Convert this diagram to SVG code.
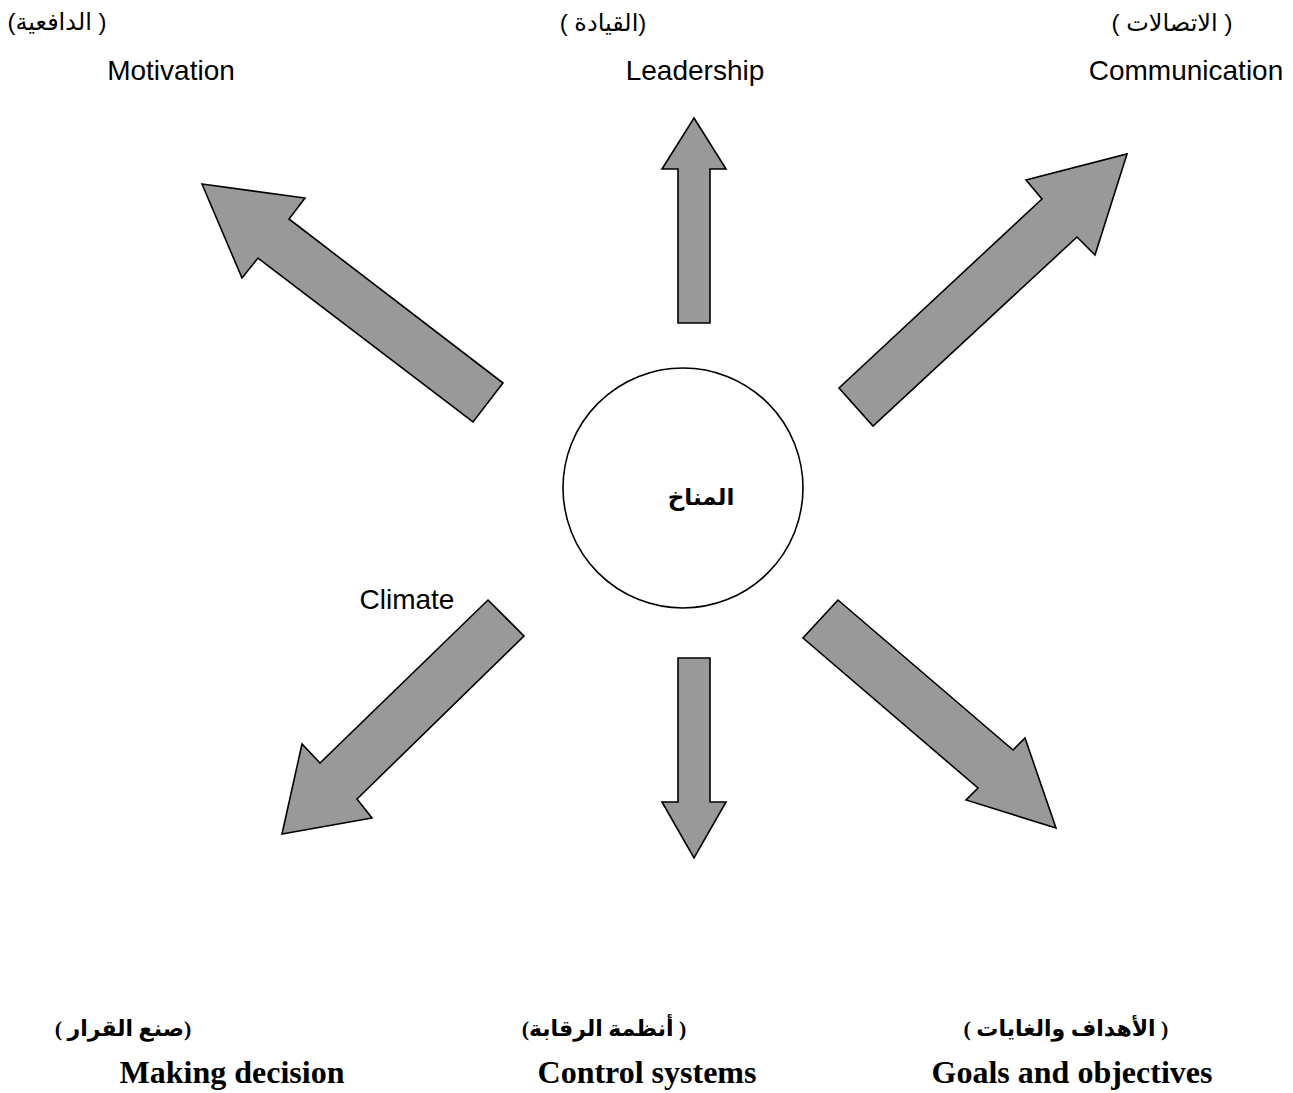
<svg xmlns="http://www.w3.org/2000/svg" width="1293" height="1093" viewBox="0 0 1293 1093">
<style>
.arrow{fill:#999999;stroke:#000;stroke-width:1.6;stroke-linejoin:miter}
.en{font-family:"Liberation Sans","DejaVu Sans",sans-serif;font-size:28px;fill:#000;text-anchor:middle}
.ar{font-family:"Liberation Sans","DejaVu Sans",sans-serif;font-size:24px;fill:#000;text-anchor:middle}
.enb{font-family:"Liberation Serif","DejaVu Serif",serif;font-size:32px;font-weight:bold;fill:#000;text-anchor:middle}
.arb{font-family:"Liberation Serif","DejaVu Sans",serif;font-size:22px;font-weight:bold;fill:#000;text-anchor:middle}
</style>
<rect width="1293" height="1093" fill="#fff"/>
<g id="connectors">
<polygon class="arrow" points="202,184 305,198 289,219 503,383 473,422 258,258 242,278"/>
<polygon class="arrow" points="694,118 726,169 710,169 710,323 678,323 678,169 662,169"/>
<polygon class="arrow" points="1127,154 1095,255 1077,237 873,426 839,388 1042,199 1026,180"/>
<polygon class="arrow" points="282,834 302,744 320,763 488,600 524,636 357,799 372,818"/>
<polygon class="arrow" points="678,658 710,658 710,802 726,802 694,858 662,802 678,802"/>
<polygon class="arrow" points="838,600 1013,750 1025,738 1056,828 966,800 978,788 803,638"/>
</g>
<g id="climate">
<circle cx="683" cy="488" r="120" fill="#fff" stroke="#000" stroke-width="1.6"/>
<text x="701" y="505" direction="rtl" style="font-family:'Liberation Sans','DejaVu Sans',sans-serif;font-size:23px;font-weight:bold;text-anchor:middle">المناخ</text>
<text class="en" x="407" y="609">Climate</text>
</g>
<g id="motivation">
<text class="ar" x="57" y="30" direction="rtl">( الدافعية)</text>
<text class="en" x="171" y="80">Motivation</text>
</g>
<g id="leadership">
<text class="ar" x="603" y="31" direction="rtl">(القيادة )</text>
<text class="en" x="695" y="80">Leadership</text>
</g>
<g id="communication">
<text class="ar" x="1172" y="31" direction="rtl">( الاتصالات )</text>
<text class="en" x="1186" y="80">Communication</text>
</g>
<g id="making-decision">
<text class="arb" x="123" y="1036" direction="rtl">(صنع القرار )</text>
<text class="enb" x="232" y="1083">Making decision</text>
</g>
<g id="control-systems">
<text class="arb" x="604" y="1036" direction="rtl">( أنظمة الرقابة)</text>
<text class="enb" x="647" y="1083">Control systems</text>
</g>
<g id="goals">
<text class="arb" x="1066" y="1036" direction="rtl">( الأهداف والغايات )</text>
<text class="enb" x="1072" y="1083">Goals and objectives</text>
</g>
</svg>
